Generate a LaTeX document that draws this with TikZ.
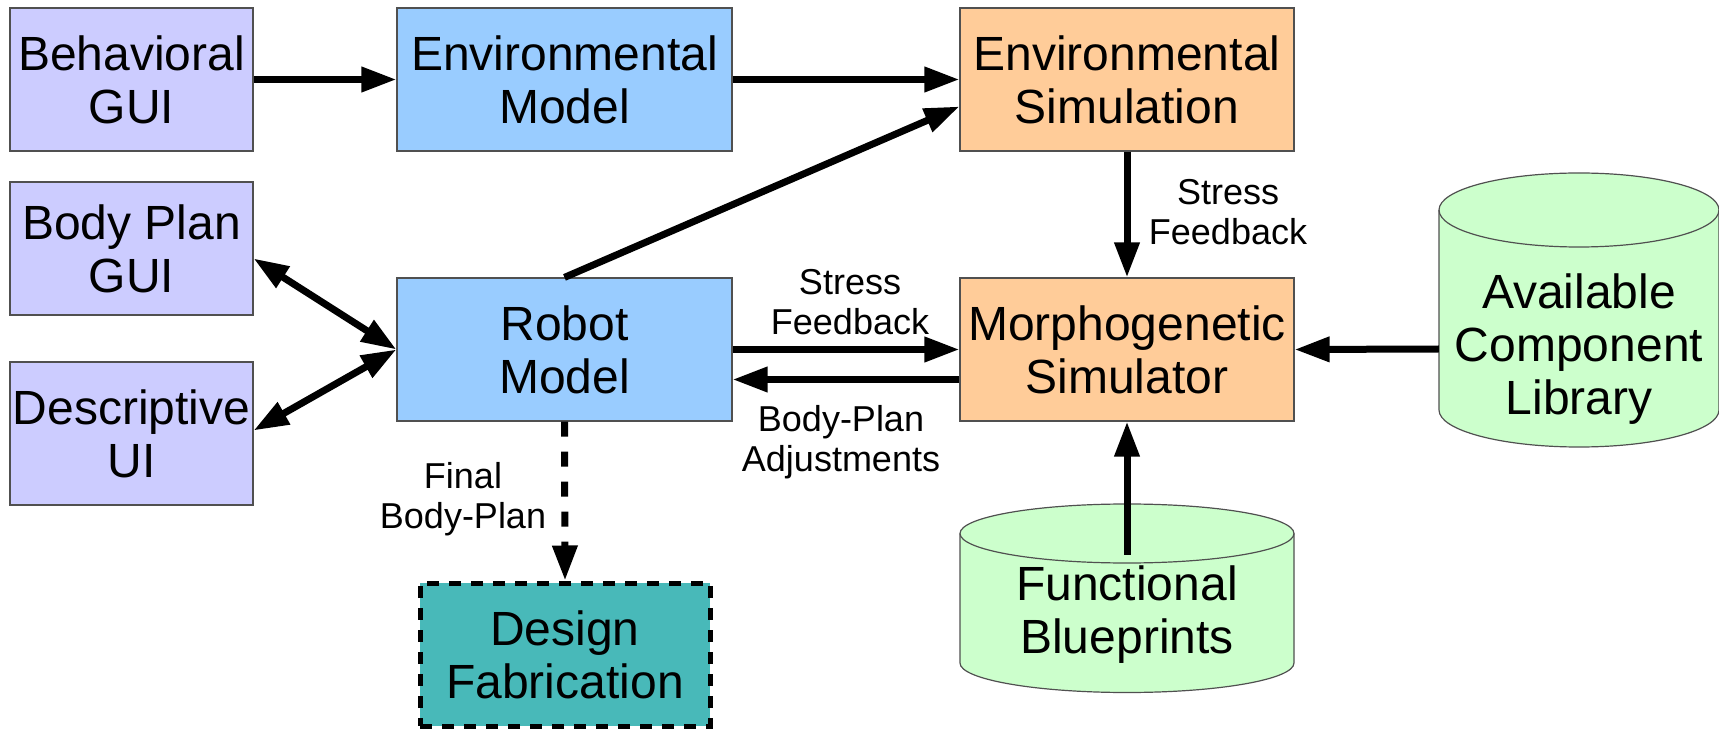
\documentclass[tikz,border=0pt]{standalone}
\usepackage{fontspec}
\setmainfont{Liberation Sans}
\usetikzlibrary{arrows.meta}
\definecolor{lav}{HTML}{CCCCFF}
\definecolor{lblue}{HTML}{99CCFF}
\definecolor{lorange}{HTML}{FFCC99}
\definecolor{lgreen}{HTML}{CCFFCC}
\definecolor{teal2}{HTML}{48B9B9}
\definecolor{bord}{HTML}{505050}
\tikzset{
  box/.style={draw=bord, line width=1.2pt, inner sep=0pt, align=center,
    font=\fontsize{48}{53}\selectfont},
  lbl/.style={align=center, font=\fontsize{36}{40}\selectfont},
  txt/.style={inner sep=0pt, align=center, font=\fontsize{48}{53}\selectfont},
  arr/.style={line width=7pt, -{Triangle[length=35pt,width=24pt]}},
  darr/.style={line width=7pt, {Triangle[length=35pt,width=24pt]}-{Triangle[length=35pt,width=24pt]}}
}
\begin{document}
\begin{tikzpicture}[x=1pt,y=1pt]
\useasboundingbox (0,0) rectangle (1719,729);
% boxes
\node[box, fill=lav, minimum width=243pt, minimum height=143pt] (beh) at (131.5,649.5) {Behavioral\\GUI};
\node[box, fill=lblue, minimum width=335pt, minimum height=143pt] (envm) at (564.5,649.5) {Environmental\\Model};
\node[box, fill=lorange, minimum width=334pt, minimum height=143pt] (envs) at (1127,649.5) {Environmental\\Simulation};
\node[box, fill=lav, minimum width=243pt, minimum height=133pt] (bpg) at (131.5,480.5) {Body Plan\\GUI};
\node[box, fill=lav, minimum width=243pt, minimum height=143pt] (dui) at (131.5,295.5) {Descriptive\\UI};
\node[box, fill=lblue, minimum width=335pt, minimum height=143pt] (robot) at (564.5,379.5) {Robot\\Model};
\node[box, fill=lorange, minimum width=334pt, minimum height=143pt] (morph) at (1127,379.5) {Morphogenetic\\Simulator};
\node[box, fill=teal2, draw=black, line width=5pt, dash pattern=on 12pt off 10pt, minimum width=290pt, minimum height=143pt] (dfab) at (565,74.5) {Design\\Fabrication};
% cylinders
\fill[lgreen] (1439,519) -- (1439,319) arc[start angle=180, end angle=360, x radius=140, y radius=37] -- (1719,519) arc[start angle=0, end angle=180, x radius=140, y radius=37] -- cycle;
\draw[bord, line width=1.2pt] (1439,519) -- (1439,319) arc[start angle=180, end angle=360, x radius=140, y radius=37] -- (1719,519) arc[start angle=0, end angle=180, x radius=140, y radius=37];
\draw[bord, line width=1.2pt] (1439,519) arc[start angle=180, end angle=360, x radius=140, y radius=37];
\node[txt, minimum width=280pt, minimum height=200pt] (acl) at (1579,380) {Available\\Component\\Library};
\fill[lgreen] (960,195.5) -- (960,66) arc[start angle=180, end angle=360, x radius=167, y radius=29.5] -- (1294,195.5) arc[start angle=0, end angle=180, x radius=167, y radius=29.5] -- cycle;
\draw[bord, line width=1.2pt] (960,195.5) -- (960,66) arc[start angle=180, end angle=360, x radius=167, y radius=29.5] -- (1294,195.5) arc[start angle=0, end angle=180, x radius=167, y radius=29.5];
\draw[bord, line width=1.2pt] (960,195.5) arc[start angle=180, end angle=360, x radius=167, y radius=29.5];
\node[txt, minimum width=334pt, minimum height=120pt] (fb) at (1127,114) {Functional\\Blueprints};
% connectors
\draw[arr] (beh.east) -- (envm.west);
\draw[arr] (envm.east) -- (envs.west);
\draw[arr] (robot.north) -- ([yshift=-27pt]envs.west);
\draw[arr] (envs.south) -- (morph.north);
\draw[arr] (robot.east) -- (morph.west);
\draw[arr] ([yshift=-30pt]morph.west) -- ([yshift=-30pt]robot.east);
\draw[arr] (acl.west) -- (morph.east);
\draw[arr] (fb.north) -- (morph.south);
\draw[arr, dash pattern=on 15pt off 15pt] (robot.south) -- (dfab.north);
\draw[darr] ([yshift=-10pt]bpg.east) -- (robot.west);
\draw[darr] ([yshift=3pt]dui.east) -- (robot.west);
% labels
\node[lbl] (l1) at (1228,517) {Stress\\Feedback};
\node[lbl] (l2) at (850,427) {Stress\\Feedback};
\node[lbl] (l3) at (841,287) {Body-Plan\\Adjustments};
\node[lbl] (l4) at (463,230) {Final\\Body-Plan};
\end{tikzpicture}
\end{document}
